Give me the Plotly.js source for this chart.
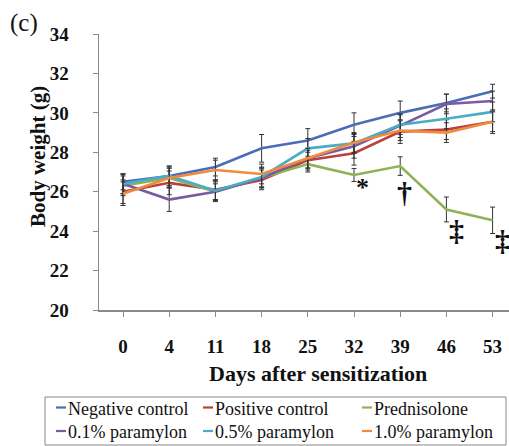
<!DOCTYPE html>
<html><head><meta charset="utf-8">
<script src="https://cdn.plot.ly/plotly-3.0.1.min.js"></script>
<style>html,body{margin:0;padding:0;background:#fff;overflow:hidden}</style>
</head><body><div id="chart" style="width:509px;height:446px"></div>
<script>
const days = ["0","4","11","18","25","32","39","46","53"];
const seriesNames = ["Negative control","Positive control","Prednisolone","0.1% paramylon","0.5% paramylon","1.0% paramylon"];
const negControl = [26.5,26.8,27.25,28.2,28.6,29.4,30.0,30.5,31.1];
const posControl = [26.0,26.45,26.1,26.6,27.6,27.95,29.05,29.15,29.55];
const prednisolone = [26.3,26.7,26.0,26.7,27.4,26.85,27.3,25.1,24.55];
const para01 = [26.4,25.6,26.0,26.7,27.7,28.3,29.35,30.45,30.6];
const para05 = [26.4,26.8,26.05,26.75,28.2,28.45,29.4,29.7,30.05];
const para10 = [25.9,26.7,27.1,26.9,27.7,28.5,29.1,29.0,29.55];
const errNeg = [0.4,0.5,0.45,0.7,0.6,0.6,0.6,0.45,0.35];
const errPos = [0.6,0.6,0.5,0.5,0.5,0.6,0.6,0.5,0.6];
const errPred = [0.5,0.5,0.5,0.5,0.4,0.33,0.47,0.63,0.67];
const err01 = [0.5,0.6,0.4,0.5,0.5,0.6,0.6,0.5,0.5];
const err05 = [0.5,0.5,0.5,0.5,0.5,0.5,0.5,0.5,0.5];
const err10 = [0.6,0.5,0.5,0.5,0.5,0.5,0.5,0.5,0.5];
const yTicks = [20,22,24,26,28,30,32,34];
const sigDayIndex = [5,6,7,8];
const sigY = [26.2,25.95,24.05,23.55];
const sigText = ["*","†","‡","‡"];

const colors = ["#4A6DB5","#B8403D","#8DB356","#7A5AA0","#4BACC6","#F08A3E"];
const values = [negControl,posControl,prednisolone,para01,para05,para10];
const errs = [errNeg,errPos,errPred,err01,err05,err10];
const serif = "Liberation Serif, Times New Roman, serif";
const W = 509, H = 446, ML = 99, MT = 34, PW = 410, PH = 276;
const px = v => (v - ML) / PW;           // page pixel -> paper x
const py = v => (MT + PH - v) / PH;      // page pixel -> paper y

const traces = seriesNames.map((n,i)=>({
  type:"scatter", mode:"lines", name:n, x:days, y:values[i], showlegend:false,
  line:{color:colors[i], width:2.6},
  error_y:{type:"data", array:errs[i], visible:true, color:"#333", thickness:1, width:2.5}
}));

// legend laid out like the original (3 columns x 2 rows)
const legCols = [56,203,362], legRows = [408.5,432];
const legendAnn = seriesNames.map((n,i)=>({
  xref:"paper", yref:"paper", x:px(legCols[i%3]+10), y:py(legRows[Math.floor(i/3)]),
  xanchor:"left", yanchor:"middle", showarrow:false, text:n,
  font:{family:serif,size:18,color:"#111"}
}));
const legendDash = seriesNames.map((n,i)=>({
  type:"line", xref:"paper", yref:"paper",
  x0:px(legCols[i%3]), x1:px(legCols[i%3]+10),
  y0:py(legRows[Math.floor(i/3)]-1), y1:py(legRows[Math.floor(i/3)]-1),
  line:{color:colors[i], width:2.2}
}));

const annotations = [
  {xref:"paper",yref:"paper",x:px(8),y:py(23),xanchor:"left",yanchor:"middle",text:"(c)",showarrow:false,font:{family:serif,size:25,color:"#111"}},
  {xref:"paper",yref:"paper",x:px(38),y:py(157),xanchor:"center",yanchor:"middle",textangle:-90,text:"<b>Body weight (g)</b>",showarrow:false,font:{family:serif,size:21,color:"#111"}},
  {xref:"paper",yref:"paper",x:px(318),y:py(373),xanchor:"center",yanchor:"middle",text:"<b>Days after sensitization</b>",showarrow:false,font:{family:serif,size:22,color:"#111"}}
].concat(sigDayIndex.map((d,k)=>({x:d,y:sigY[k],text:"<b>"+sigText[k]+"</b>",showarrow:false,xshift:k===0?8:(k===1?4:10),font:{family:serif,size:k===0?26:30,color:"#111"}})))
 .concat(legendAnn);

const layout = {
  width:W, height:H,
  margin:{l:ML, r:W-ML-PW, t:MT, b:H-MT-PH},
  paper_bgcolor:"#fff", plot_bgcolor:"#fff",
  showlegend:false,
  font:{family:serif, color:"#111"},
  xaxis:{type:"category", range:[-0.52,8.355], showgrid:false, zeroline:false,
    showline:true, linecolor:"#8a8a8a", linewidth:1.5, ticks:"outside", ticklen:5, tickcolor:"#8a8a8a",
    tickfont:{family:serif,size:19,color:"#111",weight:"bold"}, ticklabelstandoff:14},
  yaxis:{range:[20,34], tickvals:yTicks, showgrid:false, zeroline:false,
    showline:true, linecolor:"#8a8a8a", linewidth:1.5, ticks:"outside", ticklen:5, tickcolor:"#8a8a8a",
    tickfont:{family:serif,size:19,color:"#111",weight:"bold"}, ticklabelstandoff:20},
  shapes:[{type:"rect", xref:"paper", yref:"paper", x0:px(45), x1:px(506), y0:py(445), y1:py(397),
    line:{color:"#888", width:1}, fillcolor:"rgba(0,0,0,0)"}].concat(legendDash),
  annotations:annotations
};
Plotly.newPlot("chart", traces, layout, {displayModeBar:false, staticPlot:true});
</script></body></html>
